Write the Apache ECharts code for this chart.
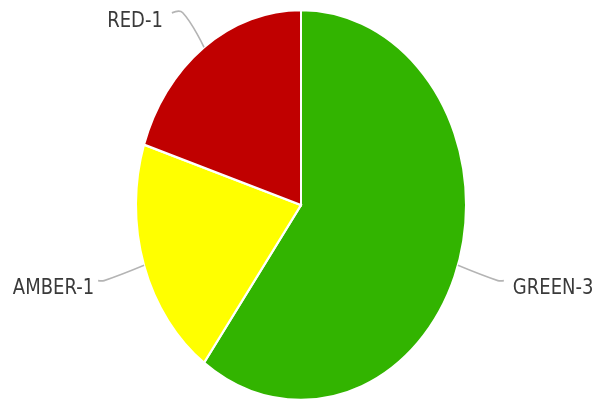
<!DOCTYPE html>
<html>
<head>
<meta charset="utf-8">
<script src="https://cdn.jsdelivr.net/npm/echarts@6/dist/echarts.min.js"></script>
<style>
  html, body { margin: 0; padding: 0; background: #fff; overflow: hidden; }
  #chart { width: 601px; height: 406px; }
</style>
</head>
<body>
<div id="chart"></div>
<script>
const statuses = ['GREEN', 'AMBER', 'RED'];
const counts = [3, 1, 1];
const statusColors = ['#32B400', '#FFFF00', '#C00000'];

// running start of each slice along the angle axis
const total = counts.reduce((a, b) => a + b, 0);
const starts = counts.map((c, i) => counts.slice(0, i).reduce((a, b) => a + b, 0));

// the round pie is stretched vertically into an oval
const ovalStretch = 195 / 165;

// leader line per slice: [radial segment, horizontal segment, gap to text]
const leaderLines = {
  GREEN: [42, 6, 9],
  AMBER: [42, 6, 4],
  RED: [36, 11, 9]
};
const textDrop = 7;

function renderSlice(params, api) {
  const cs = params.coordSys;
  const cx = cs.cx, cy = cs.cy, r = cs.r;
  const idx = params.dataIndex;
  const from = api.value(0);
  const span = api.value(1);

  // slice angles come from the polar angle axis
  const p0 = api.coord([1, from]);
  const p1 = api.coord([1, from + span]);
  const a0 = Math.atan2(p0[1] - cy, p0[0] - cx);
  let a1 = Math.atan2(p1[1] - cy, p1[0] - cx);
  while (a1 <= a0) a1 += Math.PI * 2;

  const mid = (a0 + a1) / 2;
  const ux = Math.cos(mid), uy = Math.sin(mid);
  const name = statuses[idx];
  const [len1, len2, gap] = leaderLines[name];
  const side = ux < 0 ? -1 : 1;
  const edge = [cx + r * ux, cy + r * uy];
  const bend = [cx + (r + len1) * ux, cy + (r + len1) * uy];
  const tip = [bend[0] + side * len2, bend[1]];

  return {
    type: 'group',
    originX: cx,
    originY: cy,
    scaleY: ovalStretch,
    children: [
      {
        type: 'sector',
        shape: { cx: cx, cy: cy, r0: 0, r: r, startAngle: a0, endAngle: a1, clockwise: true },
        style: { fill: statusColors[idx], stroke: '#ffffff', lineWidth: 2 }
      },
      {
        type: 'polyline',
        shape: { points: [edge, bend, tip], smooth: 0.4 },
        style: { fill: 'none', stroke: '#b4b4b4', lineWidth: 1.5 }
      },
      {
        type: 'text',
        x: tip[0] + side * gap,
        y: tip[1] + textDrop,
        style: {
          text: name + '-' + span,
          font: '18px "DejaVu Sans"',
          fill: '#3a3a3a',
          align: side < 0 ? 'right' : 'left',
          verticalAlign: 'middle'
        }
      }
    ]
  };
}

const chart = echarts.init(document.getElementById('chart'), null, { renderer: 'canvas' });

chart.setOption({
  animation: false,
  backgroundColor: '#ffffff',
  polar: { center: [301, 205], radius: 165 },
  angleAxis: { type: 'value', min: 0, max: total, startAngle: 90, clockwise: true, show: false },
  radiusAxis: { type: 'value', min: 0, max: 1, show: false },
  series: [{
    type: 'custom',
    coordinateSystem: 'polar',
    renderItem: renderSlice,
    data: statuses.map((name, i) => ({ name: name, value: [starts[i], counts[i]] })),
    silent: true
  }]
});
</script>
</body>
</html>
